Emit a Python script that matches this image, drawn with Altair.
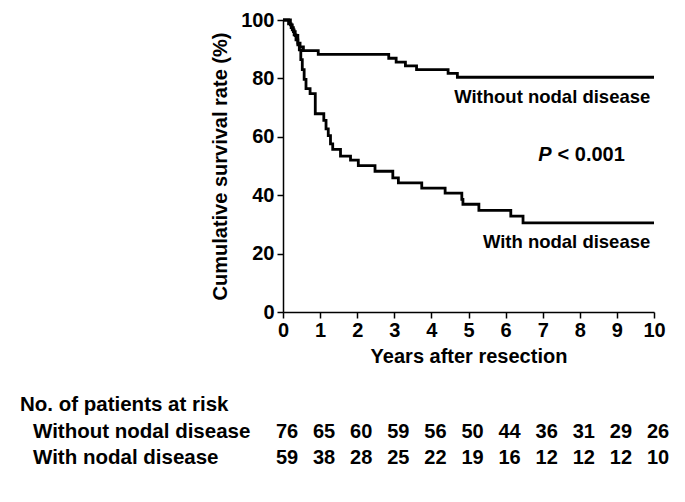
import altair as alt
import pandas as pd

# Kaplan-Meier step points (years, survival %)
without_t = [0, 0.15, 0.22, 0.28, 0.33, 0.4, 0.46, 0.55, 0.95, 2.85, 3.05, 3.3, 3.6, 4.05, 4.45, 4.7, 10]
without_s = [100, 98.7, 97.4, 96.0, 94.7, 92.1, 90.8, 89.5, 88.2, 86.9, 85.6, 84.3, 83.0, 83.0, 81.7, 80.4, 80.4]

with_t = [0, 0.2, 0.25, 0.3, 0.35, 0.4, 0.44, 0.48, 0.52, 0.57, 0.62, 0.73, 0.87, 1.1, 1.16, 1.22, 1.28, 1.34, 1.55, 1.82, 2.03, 2.48, 2.96, 3.11, 3.74, 4.37, 4.82, 4.85, 5.28, 6.14, 6.47, 10]
with_s = [100, 98.3, 96.6, 94.9, 93.2, 91.5, 89.8, 86.4, 83.0, 79.7, 76.5, 74.8, 67.9, 65.6, 62.7, 60.4, 57.6, 55.7, 53.4, 52.0, 50.1, 48.2, 45.9, 44.2, 42.4, 40.7, 38.6, 36.9, 34.8, 32.8, 30.5, 30.5]

risk_years = list(range(11))
risk_without = [76, 65, 60, 59, 56, 50, 44, 36, 31, 29, 26]
risk_with = [59, 38, 28, 25, 22, 19, 16, 12, 12, 12, 10]

x_ticks = list(range(11))
y_ticks = [0, 20, 40, 60, 80, 100]

FONT = "Liberation Sans"
FS = 20

curves = pd.DataFrame({
    "t": without_t + with_t,
    "s": without_s + with_s,
    "g": ["Without"] * len(without_t) + ["With"] * len(with_t),
})

xs = alt.Scale(domain=[0, 10], nice=False)
ys = alt.Scale(domain=[0, 100], nice=False)
xaxis = alt.Axis(values=x_ticks, title="Years after resection", titlePadding=6, labelPadding=2,
                 labelOverlap=False, labelFlush=False)
yaxis = alt.Axis(values=y_ticks, title="Cumulative survival rate (%)", titlePadding=10, labelPadding=3,
                 labelOverlap=False, labelFlush=False)


def X(field):
    return alt.X(field, scale=xs, axis=xaxis, title="Years after resection")


def Y(field):
    return alt.Y(field, scale=ys, axis=yaxis, title="Cumulative survival rate (%)")


lines = alt.Chart(curves).mark_line(interpolate="step-after", color="black", strokeWidth=2.8).encode(
    x=X("t:Q"), y=Y("s:Q"), detail="g:N",
)

ann = pd.DataFrame({"x": [9.9, 9.9], "y": [73.6, 24], "txt": ["Without nodal disease", "With nodal disease"]})
ann_text = alt.Chart(ann).mark_text(font=FONT, fontWeight="bold", fontSize=18.5, color="black", align="right").encode(
    x=X("x:Q"), y=Y("y:Q"), text="txt:N")

pval = pd.DataFrame({"x": [7.4], "y": [53.8], "p": ["P"], "rest": ["< 0.001"]})
p_it = alt.Chart(pval).mark_text(font=FONT, fontWeight="bold", fontStyle="italic", fontSize=FS,
                                 align="right", dx=-6, color="black").encode(
    x=X("x:Q"), y=Y("y:Q"), text="p:N")
p_rest = alt.Chart(pval).mark_text(font=FONT, fontWeight="bold", fontSize=FS, align="left", color="black").encode(
    x=X("x:Q"), y=Y("y:Q"), text="rest:N")

risk = pd.DataFrame({
    "yr": risk_years + risk_years,
    "n": risk_without + risk_with,
    "row": ["a"] * 11 + ["b"] * 11,
})
risk_a = alt.Chart(risk[risk.row == "a"]).mark_text(font=FONT, fontWeight="bold", fontSize=FS, color="black", dx=4).encode(
    x=X("yr:Q"), y=alt.value(412), text="n:Q")
risk_b = alt.Chart(risk[risk.row == "b"]).mark_text(font=FONT, fontWeight="bold", fontSize=FS, color="black", dx=4).encode(
    x=X("yr:Q"), y=alt.value(438), text="n:Q")

hdr = pd.DataFrame({"txt": ["No. of patients at risk", "Without nodal disease", "With nodal disease"],
                    "row": [0, 1, 2]})
hdr0 = alt.Chart(hdr[hdr.row == 0]).mark_text(font=FONT, fontWeight="bold", fontSize=20.5, align="left", color="black").encode(
    x=alt.value(-263), y=alt.value(385), text="txt:N")
hdr1 = alt.Chart(hdr[hdr.row == 1]).mark_text(font=FONT, fontWeight="bold", fontSize=20.5, align="left", color="black").encode(
    x=alt.value(-250), y=alt.value(412), text="txt:N")
hdr2 = alt.Chart(hdr[hdr.row == 2]).mark_text(font=FONT, fontWeight="bold", fontSize=20.5, align="left", color="black").encode(
    x=alt.value(-250), y=alt.value(438), text="txt:N")

chart = alt.layer(lines, ann_text, p_it, p_rest, risk_a, risk_b, hdr0, hdr1, hdr2).properties(
    width=371, height=292,
    padding={"left": 275, "top": 12, "right": 22, "bottom": 180},
    autosize=alt.AutoSizeParams(type="none"),
).configure_view(stroke=None).configure_axis(
    grid=False, domainColor="black", domainWidth=1.5, tickColor="black", tickWidth=1.5, tickSize=6,
    labelFont=FONT, labelFontWeight="bold", labelFontSize=FS, labelColor="black",
    titleFont=FONT, titleFontWeight="bold", titleFontSize=FS, titleColor="black",
)

chart.save("out.html", embed_options={"renderer": "svg", "actions": False})
